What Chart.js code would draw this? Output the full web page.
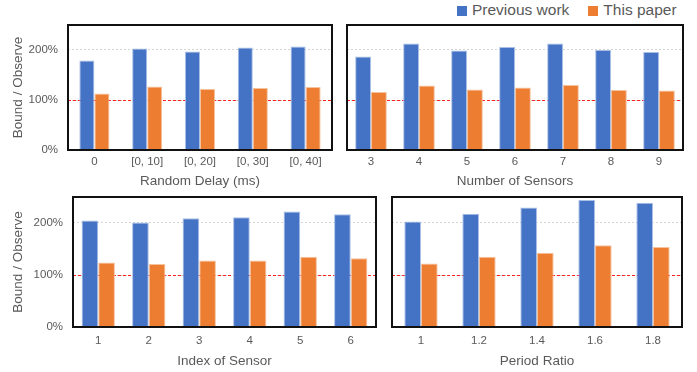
<!DOCTYPE html>
<html>
<head>
<meta charset="utf-8">
<script src="https://cdn.jsdelivr.net/npm/chart.js@4"></script>
<style>
  body { margin: 0; background: #fff; }
  #wrap { position: relative; width: 697px; height: 372px; overflow: hidden; font-family: "Liberation Sans", Arial, sans-serif; }
  .box { position: absolute; }
  #legend { position: absolute; top: 1px; left: 457px; font-size: 15.5px; color: #595959; white-space: nowrap; }
  #legend span.sw { display: inline-block; width: 10px; height: 10px; vertical-align: -1px; margin-right: 5px; }
  #legend span.item { margin-right: 19px; }
</style>
</head>
<body>
<div id="wrap">
  <div id="legend"></div>
  <div class="box" style="left:0;top:0;width:340px;height:190px"><canvas id="delayChart"></canvas></div>
  <div class="box" style="left:340px;top:0;width:357px;height:190px"><canvas id="countChart"></canvas></div>
  <div class="box" style="left:0;top:190px;width:385px;height:182px"><canvas id="indexChart"></canvas></div>
  <div class="box" style="left:385px;top:190px;width:312px;height:182px"><canvas id="ratioChart"></canvas></div>
</div>
<script>
// series names
const seriesNames = ["Previous work", "This paper"];
const seriesColors = ["#4472C4", "#ED7D31"];
const seriesEdges = ["#a9bfe6", "#f5c29e"];

// y axis (percent)
const yTicks = [0, 100, 200];
const yMax = 250;
const refValue = 100;

// random delay
const delayLabels = ["0", "[0, 10]", "[0, 20]", "[0, 30]", "[0, 40]"];
const delayPrev = [179, 203, 197, 205, 207];
const delayOurs = [113, 127, 122, 124, 126];

// number of sensors
const countLabels = ["3", "4", "5", "6", "7", "8", "9"];
const countPrev = [187, 213, 199, 206, 213, 200, 196];
const countOurs = [116, 129, 121, 125, 130, 120, 119];

// index of sensor
const indexLabels = ["1", "2", "3", "4", "5", "6"];
const indexPrev = [205, 201, 209, 211, 222, 217];
const indexOurs = [124, 121, 128, 128, 135, 132];

// period ratio
const ratioLabels = ["1", "1.2", "1.4", "1.6", "1.8"];
const ratioPrev = [203, 218, 230, 244, 239];
const ratioOurs = [122, 135, 143, 157, 154];

const textColor = "#595959";
const fontFamily = "'Liberation Sans', Arial, sans-serif";

// legend (shared)
document.getElementById("legend").innerHTML = seriesNames
  .map((n, i) => `<span class="item"><span class="sw" style="background:${seriesColors[i]}"></span>${n}</span>`)
  .join("");

// red dashed reference line, under the bars
const refLinePlugin = {
  id: "refLine",
  beforeDatasetsDraw(chart) {
    const { ctx, chartArea, scales } = chart;
    const y = Math.round(scales.y.getPixelForValue(refValue)) + 0.5;
    ctx.save();
    ctx.strokeStyle = "#ff2020";
    ctx.lineWidth = 1;
    ctx.setLineDash([3, 2]);
    ctx.beginPath();
    ctx.moveTo(chartArea.left, y);
    ctx.lineTo(chartArea.right, y);
    ctx.stroke();
    ctx.restore();
  }
};

// black box round the plot area
const framePlugin = {
  id: "frame",
  afterDraw(chart) {
    const { ctx, chartArea } = chart;
    ctx.save();
    ctx.strokeStyle = "#111";
    ctx.lineWidth = 2;
    ctx.strokeRect(chartArea.left, chartArea.top, chartArea.right - chartArea.left, chartArea.bottom - chartArea.top);
    ctx.restore();
  }
};

function makeChart(id, labels, prev, ours, xTitle, o) {
  return new Chart(document.getElementById(id), {
    type: "bar",
    data: {
      labels: labels,
      datasets: [
        { label: seriesNames[0], data: prev, backgroundColor: seriesColors[0], borderColor: seriesEdges[0], borderWidth: 1 },
        { label: seriesNames[1], data: ours, backgroundColor: seriesColors[1], borderColor: seriesEdges[1], borderWidth: 1 }
      ]
    },
    options: {
      responsive: true,
      maintainAspectRatio: false,
      animation: false,
      datasets: { bar: { categoryPercentage: o.cat, barPercentage: 1.0 } },
      layout: { padding: o.pad },
      plugins: { legend: { display: false }, tooltip: { enabled: false } },
      scales: {
        x: {
          grid: { display: false, drawTicks: false },
          border: { display: false },
          ticks: { color: textColor, font: { family: fontFamily, size: 11.5 }, padding: o.tickPad, maxRotation: 0 },
          title: { display: true, text: xTitle, color: textColor, font: { family: fontFamily, size: 13.5 }, padding: { top: 0, bottom: o.titlePad } },
          afterFit: (s) => { s.height = o.xHeight; s.paddingLeft = 0; s.paddingRight = 0; }
        },
        y: {
          min: 0,
          max: yMax,
          afterBuildTicks: (s) => { s.ticks = yTicks.map((v) => ({ value: v })); },
          grid: { color: "#d4d4d4", drawTicks: false, lineWidth: 1 },
          border: { display: false, dash: [2, 2] },
          ticks: { display: o.showY, color: textColor, font: { family: fontFamily, size: 11.5 }, padding: 10, callback: (v) => v + "%" },
          title: { display: o.showY, text: "Bound / Observe", color: textColor, font: { family: fontFamily, size: 13.5 }, padding: { top: 10, bottom: 0 } },
          afterFit: (s) => { s.width = o.yWidth; s.paddingTop = 0; s.paddingBottom = 0; }
        }
      }
    },
    plugins: [refLinePlugin, framePlugin]
  });
}

makeChart("delayChart", delayLabels, delayPrev, delayOurs, "Random Delay (ms)",
  { cat: 0.57, pad: { top: 25, right: 8, left: 0, bottom: 0 }, xHeight: 40, yWidth: 68, showY: true, tickPad: 5, titlePad: 1 });
makeChart("countChart", countLabels, countPrev, countOurs, "Number of Sensors",
  { cat: 0.66, pad: { top: 25, right: 14, left: 7, bottom: 0 }, xHeight: 40, yWidth: 0, showY: false, tickPad: 5, titlePad: 1 });
makeChart("indexChart", indexLabels, indexPrev, indexOurs, "Index of Sensor",
  { cat: 0.66, pad: { top: 7, right: 9, left: 0, bottom: 0 }, xHeight: 45, yWidth: 73, showY: true, tickPad: 7, titlePad: 3 });
makeChart("ratioChart", ratioLabels, ratioPrev, ratioOurs, "Period Ratio",
  { cat: 0.575, pad: { top: 7, right: 15, left: 7, bottom: 0 }, xHeight: 45, yWidth: 0, showY: false, tickPad: 7, titlePad: 3 });
</script>
</body>
</html>
